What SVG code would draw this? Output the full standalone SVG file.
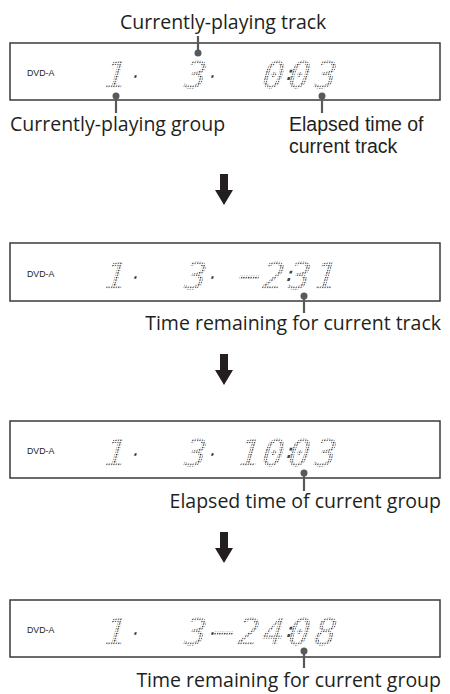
<svg xmlns="http://www.w3.org/2000/svg" width="450" height="694" viewBox="0 0 450 694">
<style>
.box{fill:#fff;stroke:#3a3a3a;stroke-width:1.5}
.lbl{font-family:"Open Sans","Noto Sans",sans-serif;font-size:19.5px;fill:#231f20}
.lbl2{font-family:"Liberation Sans",Arial,sans-serif;font-size:19.5px;fill:#231f20}
.mode{font-family:"Liberation Sans",Arial,sans-serif;font-size:8.8px;fill:#231f20}
.dig{font-family:"DejaVu Sans Mono",monospace;font-size:37px;fill:url(#dots);text-anchor:middle}
.pt{font-size:16px;fill:#333}
.col{font-size:20px;fill:#444}
.lead{stroke:#58595b;stroke-width:2.2;fill:none}
.pin{fill:#58595b}
.arr{fill:#231f20}
</style>
<defs>
<pattern id="dots" width="2.4" height="2.4" patternUnits="userSpaceOnUse"><rect width="1.3" height="1.3" fill="#2e2e2e"/></pattern>
</defs>
<rect width="450" height="694" fill="#fff"/>

<g id="display1">
<rect class="box" x="10" y="43" width="430" height="57"/>
<text class="mode" x="27" y="76">DVD-A</text>
<g transform="translate(0,88) skewX(-16)">
<text class="dig" x="112 132">1<tspan class="pt" dy="-6">·</tspan></text>
<text class="dig" x="192 209">3<tspan class="pt" dy="-6">·</tspan></text>
<text class="dig" x="270 286 296 322">0<tspan class="col" dy="-8">:</tspan><tspan dy="8">03</tspan></text>
</g>
</g>
<g id="label-track"><text class="lbl" x="120" y="29">Currently-playing track</text></g>
<g id="label-group"><text class="lbl" x="10" y="131">Currently-playing group</text></g>
<g id="label-elapsed-track"><text class="lbl2"><tspan x="289" y="131">Elapsed time of</tspan><tspan x="289" y="153">current track</tspan></text></g>

<g id="display2">
<rect class="box" x="10" y="243" width="430" height="58"/>
<text class="mode" x="27" y="277">DVD-A</text>
<g transform="translate(0,289) skewX(-16)">
<text class="dig" x="112 132">1<tspan class="pt" dy="-6">·</tspan></text>
<text class="dig" x="192 209">3<tspan class="pt" dy="-6">·</tspan></text>
<text class="dig" x="246 270 286 296 322">−2<tspan class="col" dy="-8">:</tspan><tspan dy="8">31</tspan></text>
</g>
</g>
<g id="label-remain-track"><text class="lbl" x="441" y="330" text-anchor="end">Time remaining for current track</text></g>

<g id="display3">
<rect class="box" x="10" y="421" width="430" height="57"/>
<text class="mode" x="27" y="454">DVD-A</text>
<g transform="translate(0,466) skewX(-16)">
<text class="dig" x="112 132">1<tspan class="pt" dy="-6">·</tspan></text>
<text class="dig" x="192 209">3<tspan class="pt" dy="-6">·</tspan></text>
<text class="dig" x="246 270 286 296 322">10<tspan class="col" dy="-8">:</tspan><tspan dy="8">03</tspan></text>
</g>
</g>
<g id="label-elapsed-group"><text class="lbl" x="441" y="508" text-anchor="end">Elapsed time of current group</text></g>

<g id="display4">
<rect class="box" x="10" y="600" width="430" height="57"/>
<text class="mode" x="27" y="633">DVD-A</text>
<g transform="translate(0,645) skewX(-16)">
<text class="dig" x="112 132">1<tspan class="pt" dy="-6">·</tspan></text>
<text class="dig" x="192 209 220 245 270 286 296 322">3<tspan class="pt" dy="-6">·</tspan><tspan dy="6">−24</tspan><tspan class="col" dy="-8">:</tspan><tspan dy="8">08</tspan></text>
</g>
</g>
<g id="label-remain-group"><text class="lbl" x="441" y="687" text-anchor="end">Time remaining for current group</text></g>

<g id="connectors">
<line class="lead" x1="198" y1="36" x2="198" y2="53"/><circle class="pin" cx="198" cy="53" r="3.5"/>
<line class="lead" x1="116" y1="96" x2="116" y2="113"/><circle class="pin" cx="116" cy="96" r="3.5"/>
<line class="lead" x1="322" y1="96" x2="322" y2="113"/><circle class="pin" cx="322" cy="96" r="3.5"/>
<line class="lead" x1="304" y1="296" x2="304" y2="313"/><circle class="pin" cx="304" cy="296" r="3.5"/>
<line class="lead" x1="304" y1="473" x2="304" y2="491"/><circle class="pin" cx="304" cy="473" r="3.5"/>
<line class="lead" x1="304" y1="651" x2="304" y2="668"/><circle class="pin" cx="304" cy="651" r="3.5"/>
<polygon class="arr" points="220,174 228,174 228,190 233,190 224,205 215,190 220,190"/>
<polygon class="arr" points="220,354 228,354 228,370 233,370 224,385 215,370 220,370"/>
<polygon class="arr" points="220,532 228,532 228,548 233,548 224,563 215,548 220,548"/>
</g>
</svg>
